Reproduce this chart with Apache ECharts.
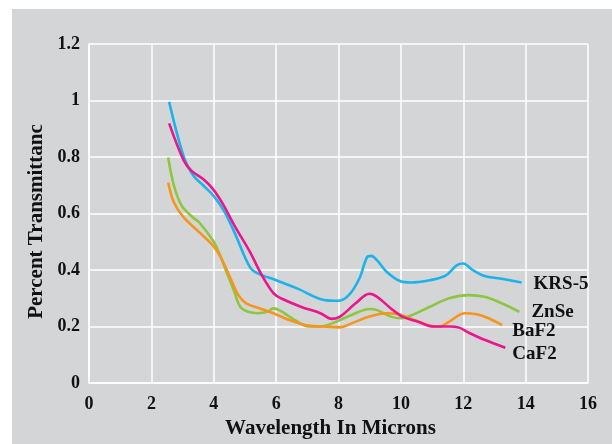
<!DOCTYPE html>
<html>
<head>
<meta charset="utf-8">
<script src="https://cdn.jsdelivr.net/npm/echarts@6/dist/echarts.min.js"></script>
<style>
html,body{margin:0;padding:0;background:#ffffff;}
#c{width:612px;height:444px;}
</style>
</head>
<body>
<div id="c"></div>
<script>
var seriesNames = ['KRS-5', 'ZnSe', 'BaF2', 'CaF2'];
var xTicks = [0, 2, 4, 6, 8, 10, 12, 14, 16];
var yTicks = [0, 0.2, 0.4, 0.6, 0.8, 1, 1.2];

var krs5 = [[2.57,0.995],[3.04,0.80],[3.35,0.734],[3.66,0.70],[4.01,0.66],[4.35,0.605],[4.66,0.534],[5.16,0.41],[5.41,0.388],[6.0,0.364],[6.67,0.335],[7.54,0.294],[7.98,0.291],[8.33,0.311],[8.67,0.37],[8.92,0.446],[9.05,0.45],[9.24,0.434],[9.55,0.393],[9.99,0.36],[10.3,0.356],[10.93,0.364],[11.43,0.38],[11.8,0.417],[12.0,0.423],[12.3,0.40],[12.68,0.379],[13.18,0.37],[13.87,0.356]];
var znse = [[2.54,0.798],[2.72,0.70],[2.97,0.628],[3.35,0.584],[3.53,0.569],[3.97,0.505],[4.16,0.464],[4.41,0.393],[4.66,0.323],[4.85,0.27],[5.1,0.252],[5.41,0.247],[5.72,0.252],[5.91,0.264],[6.1,0.258],[6.54,0.227],[7.04,0.20],[7.42,0.20],[7.92,0.217],[8.42,0.241],[8.99,0.262],[9.24,0.258],[9.68,0.235],[9.99,0.229],[10.3,0.238],[10.93,0.27],[11.55,0.30],[12.18,0.311],[12.68,0.305],[13.18,0.285],[13.8,0.252]];
var baf2 = [[2.54,0.71],[2.72,0.64],[3.03,0.587],[3.53,0.534],[3.97,0.487],[4.22,0.446],[4.54,0.37],[4.79,0.311],[5.04,0.282],[5.48,0.264],[5.91,0.247],[6.42,0.223],[7.04,0.203],[7.54,0.20],[8.05,0.197],[8.42,0.211],[8.99,0.235],[9.55,0.247],[9.93,0.243],[10.43,0.223],[10.93,0.203],[11.24,0.20],[11.55,0.217],[12.05,0.247],[12.43,0.243],[12.81,0.229],[13.25,0.205]];
var caf2 = [[2.57,0.919],[3.04,0.787],[3.29,0.751],[3.66,0.722],[3.97,0.687],[4.29,0.634],[4.66,0.558],[5.16,0.464],[5.54,0.382],[5.92,0.317],[6.17,0.299],[6.79,0.27],[7.42,0.247],[7.79,0.227],[8.05,0.235],[8.55,0.282],[8.99,0.316],[9.24,0.305],[9.68,0.264],[10.05,0.235],[10.55,0.217],[11.05,0.20],[11.55,0.20],[11.87,0.196],[12.18,0.178],[12.68,0.153],[13.35,0.125]];

var colors = ['#1bb3e9', '#8dc63f', '#f7941d', '#e9168c'];
var dataSets = [krs5, znse, baf2, caf2];
var labelOffsets = [[3, 2], [3, 0], [1, 6], [-2, 6]];
var FONT = '"Liberation Serif", "DejaVu Serif", serif';

var chart = echarts.init(document.getElementById('c'));
var series = seriesNames.map(function (n, i) {
  return {
    name: n,
    type: 'line',
    data: dataSets[i],
    smooth: 0.35,
    showSymbol: false,
    symbol: 'none',
    z: 2,
    lineStyle: { color: colors[i], width: 2.6 },
    endLabel: {
      show: true,
      formatter: '{a}',
      color: '#111',
      fontFamily: FONT,
      fontWeight: 'bold',
      fontSize: 19,
      distance: 9,
      offset: labelOffsets[i]
    }
  };
});

chart.setOption({
  animation: false,
  backgroundColor: 'transparent',
  graphic: [{
    type: 'rect',
    z: -10,
    silent: true,
    shape: { x: 12, y: 9, width: 600, height: 435 },
    style: { fill: '#d4d5d7' }
  }],
  grid: { left: 89, right: 24, top: 44, bottom: 59, containLabel: false },
  xAxis: {
    type: 'value',
    min: xTicks[0],
    max: xTicks[xTicks.length - 1],
    interval: 2,
    name: 'Wavelength In Microns',
    nameLocation: 'middle',
    nameGap: 35,
    nameTextStyle: { fontFamily: FONT, fontWeight: 'bold', fontSize: 21, color: '#111', padding: [0, 16, 0, 0] },
    axisLine: { show: true, lineStyle: { color: '#ffffff', width: 1.5 } },
    axisTick: { show: false },
    axisLabel: { fontFamily: FONT, fontWeight: 'bold', fontSize: 18, color: '#111', margin: 12 },
    splitLine: { show: true, lineStyle: { color: '#ffffff', width: 1.5 } }
  },
  yAxis: {
    type: 'value',
    min: yTicks[0],
    max: yTicks[yTicks.length - 1],
    interval: 0.2,
    name: 'Percent Transmittanc',
    nameLocation: 'middle',
    nameGap: 41,
    nameTextStyle: { fontFamily: FONT, fontWeight: 'bold', fontSize: 21, color: '#111', padding: [0, 16, 0, 0] },
    axisLine: { show: true, lineStyle: { color: '#ffffff', width: 1.5 } },
    axisTick: { show: false },
    axisLabel: {
      fontFamily: FONT, fontWeight: 'bold', fontSize: 18, color: '#111', margin: 9,
      formatter: function (v) { return String(Math.round(v * 10) / 10); }
    },
    splitLine: { show: true, lineStyle: { color: '#ffffff', width: 1.5 } }
  },
  series: series
});
</script>
</body>
</html>
